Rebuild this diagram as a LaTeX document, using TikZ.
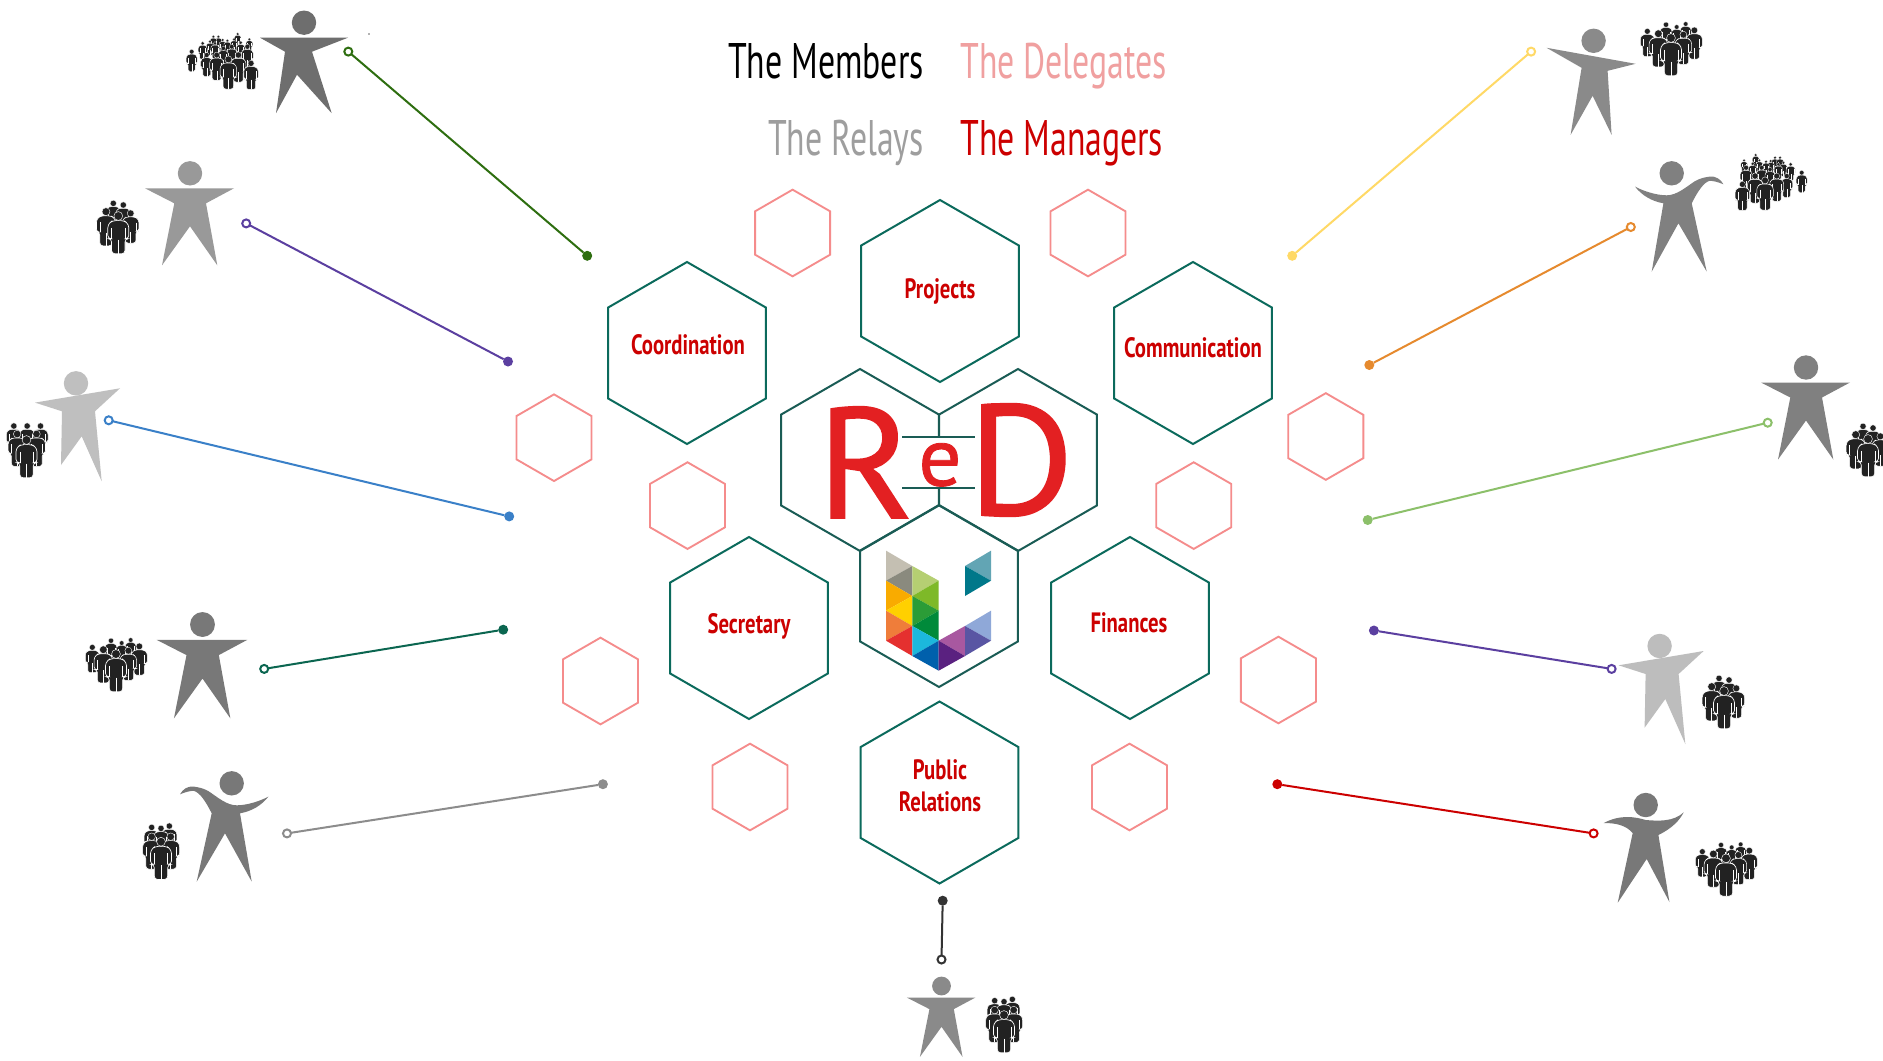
\documentclass[tikz,border=0pt]{standalone}
\usepackage{fontspec}
\usetikzlibrary{shapes.geometric}
\newfontfamily\condf[FakeStretch=0.675]{PT Sans}
\newfontfamily\labelf[FakeStretch=0.74]{PT Sans}
\newfontfamily\logof[FakeStretch=1.03,FakeBold=1.0]{PT Sans}
\definecolor{hexteal}{HTML}{0B6A5C}
\definecolor{hexdark}{HTML}{1A5C55}
\definecolor{hexpink}{HTML}{F58C8C}
\definecolor{titlepink}{HTML}{F0A0A0}
\definecolor{redlabel}{HTML}{CC0000}
\definecolor{logored}{HTML}{E32022}
\definecolor{crowdc}{HTML}{222222}
\definecolor{c1}{HTML}{2E6E10}
\definecolor{c2}{HTML}{5B3FA0}
\definecolor{c3}{HTML}{3A80C8}
\definecolor{c4}{HTML}{0B6650}
\definecolor{c5}{HTML}{8C8C8C}
\definecolor{c6}{HTML}{333333}
\definecolor{c7}{HTML}{FFD966}
\definecolor{c8}{HTML}{E68A2E}
\definecolor{c9}{HTML}{8CC06A}
\definecolor{c10}{HTML}{5B3FA0}
\definecolor{c11}{HTML}{CC0000}
\tikzset{
  hexbig/.style={regular polygon,regular polygon sides=6,shape border rotate=30,draw=hexteal,line width=1.5pt,minimum size=136.5pt,inner sep=0pt,outer sep=0pt},
  hexmid/.style={hexbig,draw=hexdark},
  hexsmall/.style={regular polygon,regular polygon sides=6,shape border rotate=30,draw=hexpink,line width=1.4pt,minimum size=65pt,inner sep=0pt,outer sep=0pt},
  hexlabel/.style={text=redlabel,font={\labelf\bfseries\fontsize{21}{24}\selectfont},align=center,inner sep=0pt},
  titletext/.style={font={\condf\fontsize{37.5}{40}\selectfont},inner sep=0pt},
  endopen/.style={circle,draw=#1,fill=white,line width=1.5pt,minimum size=6pt,inner sep=0pt,outer sep=0pt},
  endfull/.style={circle,fill=#1,minimum size=7.5pt,inner sep=0pt,outer sep=0pt},
  link/.style={draw=#1,line width=1.5pt},
  logoletter/.style={text=logored,inner sep=0pt,anchor=base}
}
% small pictogram person: head centre at (x,y), total height h
\newcommand\minip[3]{%
  \begin{scope}[shift={({#1},{#2-.1*#3})},scale=#3]
    \fill[crowdc,draw=white,line width=#3*.012pt,rounded corners=#3*.06pt] (-.25,.64)--(-.25,.3)--(-.14,.21)--(.14,.21)--(.25,.3)--(.25,.64)--(.16,.64)--(.16,1)--(-.16,1)--(-.16,.64)--cycle;
    \fill[crowdc,draw=white,line width=#3*.008pt] (0,.1) circle (.105);
    \draw[white,line width=#3*.008pt] (0,.66)--(0,1) (-.16,.38)--(-.16,.64) (.16,.38)--(.16,.64);
  \end{scope}}
\def\smallcrowd{-15/-38/30,15/-33/30,-37/-13/38,37/-8/33,0/0/42}
\def\narrowcrowd{-28/-43/30,25/-47/30,0/-40/30,-28/-15/36,29/-15/36,0/0/42}
\def\wideback{-38/-42/30,2/-42/30,42/-42/30,-28/-18/36,30/-18/36,0/0/42}
\def\medcrowd{44/-42/22,-15/-40/25,17/-33/22,-71/-20/28,70/-23/32,37/-10/33,-38/-13/37,0/0/42}
\def\largecrowd{138/-53/13,80/-45/14,65/-45/14,173/-37/13,127/-37/14,93/-35/14,107/-33/14,55/-30/15,147/-27/17,33/-25/18,70/-25/17,167/-15/24,120/-15/22,95/-10/20,45/10/24,75/10/28,140/10/30,178/35/29,110/23/33,0/0/22}
\newcommand\crowdat[4]{% list, x, y, mirror sign
  \foreach \dx/\dy/\hh in #1 {%
    \pgfmathsetmacro\px{#2+(#4)*\dx/3}%
    \pgfmathsetmacro\py{#3+\dy/3}%
    \minip{\px}{\py}{\hh}}}
% large figures: head at origin
\def\starpath{(-45,15)--(44,15)--(16,30)--(27.3,92)--(0,53)--(-28,92)--(-15.7,30)--cycle}
\def\leanpath{(-44,15)--(44,15)--(8,29)--(27.7,90.5)--(-7,52)--(-28,90.5)--(-19,29)--cycle}
\def\tiltpath{(-41,19.3)--(44,5)--(19,28)--(25.7,98)--(5.7,53)--(-15,81.7)--(-14,28)--cycle}
\def\rightpath{(-47,7)--(42,23)--(14,30)--(18,94)--(-1,55)--(-23,94)--(-12,27)--cycle}
\def\swooshpath{(-36.7,13.3) .. controls (-28,18) and (-15,22) .. (-5,22) .. controls (5,22) and (14,14) .. (23,8) .. controls (28,5) and (33,4) .. (38,3.3) .. controls (44,2.5) and (49,6) .. (51.7,11) .. controls (47,9) and (42,7.5) .. (38,7.5) .. controls (32,9) and (26,18) .. (20,30) -- (35,98.3) -- (6.7,50) -- (-20,98.3) -- (-8.3,30) .. controls (-20,28) and (-30,22) .. cycle}
\def\capepath{(-42,18) .. controls (-25,9) and (-10,12) .. (0,15) .. controls (12,16) and (28,17) .. (38,7.3) .. controls (34,15) and (27,23) .. (12.7,30) -- (23.7,97) -- (1,54) -- (-28,97.7) -- (-13,28) .. controls (-20,20) and (-30,18) .. cycle}
\newcommand\manfig[6][]{%
  \begin{scope}[shift={(#2,#3)},#1,scale=#4]
    \fill[#5] (0,0) circle (12.2);
    \fill[#5] #6;
  \end{scope}}
\newcommand\tri[4]{\definecolor{tc}{HTML}{#1}\fill[tc] #2--#3--#4--cycle;}
\begin{document}
\begin{tikzpicture}[x=.75pt,y=-.75pt]
\useasboundingbox[fill=white] (0,0) rectangle (1883,1060);

% titles
\node[titletext,anchor=base east,text=black] (tmembers) at (924,78) {The Members};
\node[titletext,anchor=base west,text=titlepink] (tdelegates) at (960,78) {The Delegates};
\node[titletext,anchor=base east,text=black!38] (trelays) at (924,155) {The Relays};
\node[titletext,anchor=base west,text=redlabel] (tmanagers) at (960,155) {The Managers};

% small pink hexagons
\foreach \n/\hx/\hy in {a/792.6/233,b/1088/233,c/554/437.7,d/687.5/505.6,e/1325.8/436.5,f/1193.7/505.6,g/600.5/681,h/1278.4/680,i/750/787,j/1129.5/787}
  \node[hexsmall] (pink\n) at (\hx,\hy) {};

% main hexagons
\node[hexbig] (projects) at (940,291) {};
\node[hexbig] (coordination) at (687,353) {};
\node[hexbig] (communication) at (1193,353) {};
\node[hexbig] (secretary) at (749,628) {};
\node[hexbig] (finances) at (1130,628) {};
\node[hexbig] (public) at (939.5,792.5) {};
\node[hexlabel] (lprojects) at (940,291) {Projects};
\node[hexlabel] (lcoord) at (688,345) {Coordination};
\node[hexlabel] (lcomm) at (1193,348) {Communication};
\node[hexlabel] (lsecr) at (749,626) {Secretary};
\node[hexlabel] (lfin) at (1129,622.5) {Finances};
\node[hexlabel] (lpub) at (940,786) {Public\\[0pt]Relations};

% central hexagons
\node[hexmid] (hexr) at (860,460) {};
\node[hexmid] (hexd) at (1018,460) {};
\node[hexmid] (hexu) at (939,596) {};
\fill[white] (936,437) rectangle (942,488);
\coordinate (lineaw) at (902,436.7);
\coordinate (lineae) at (975,436.7);
\coordinate (linebw) at (902,488);
\coordinate (linebe) at (975,488);
\draw[hexdark,line width=1.2pt] (lineaw)--(lineae) (linebw)--(linebe);
\node[logoletter,font={\logof\fontsize{118}{118}\selectfont}] (letterr) at (865.5,518) {R};
\node[logoletter,font={\logof\fontsize{118}{118}\selectfont}] (letterd) at (1021,515) {D};
\node[logoletter,font={\logof\fontsize{62}{62}\selectfont}] (lettere) at (940,485.5) {e};

% logo
\begin{scope}[shift={(740,340)},x=.25pt,y=-.25pt]
\tri{C4BFB2}{(438,632)}{(517,678)}{(438,722)}
\tri{8A8A7E}{(438,722)}{(517,678)}{(517,768)}
\tri{F9AB00}{(438,722)}{(517,768)}{(438,812)}
\tri{FFD000}{(438,812)}{(517,768)}{(517,858)}
\tri{EF7D3A}{(438,812)}{(517,858)}{(438,902)}
\tri{E5302F}{(438,902)}{(517,858)}{(517,948)}
\tri{B5CF72}{(517,678)}{(596,722)}{(517,768)}
\tri{7EB928}{(517,768)}{(596,722)}{(596,812)}
\tri{2B9C37}{(517,768)}{(596,812)}{(517,858)}
\tri{008A3A}{(517,858)}{(596,812)}{(596,902)}
\tri{1CB8DC}{(517,858)}{(596,902)}{(517,948)}
\tri{0060AC}{(517,948)}{(596,902)}{(596,992)}
\tri{A858A0}{(596,902)}{(675,858)}{(675,948)}
\tri{5A2180}{(596,902)}{(675,948)}{(596,992)}
\tri{8FA8D8}{(675,858)}{(753,812)}{(753,902)}
\tri{5955A3}{(675,858)}{(753,902)}{(675,948)}
\tri{62A5B4}{(675,678)}{(753,632)}{(753,722)}
\tri{00788A}{(675,678)}{(753,722)}{(675,768)}
\end{scope}

% figures
\manfig{304}{22.7}{1}{black!57}{\leanpath}
\manfig{190}{173.3}{1}{black!40}{\starpath}
\manfig{76}{383.3}{1}{black!25}{\tiltpath}
\manfig{202.5}{624.5}{1.02}{black!53}{\starpath}
\manfig[xscale=-1]{231.7}{783.3}{1}{black!53}{\swooshpath}
\manfig{941.5}{986}{.77}{black!46}{\starpath}
\manfig{1593.6}{40.8}{1}{black!46}{\rightpath}
\manfig{1671.7}{173.3}{1}{black!50}{\swooshpath}
\manfig{1806}{367.5}{1}{black!50}{\starpath}
\manfig{1659.6}{646}{1}{black!26}{\tiltpath}
\manfig{1645.7}{805}{1}{black!53}{\capepath}
\fill[black!60] (369,34) circle (.8);

% crowds
\crowdat{\largecrowd}{191.7}{51.7}{1}
\crowdat{\smallcrowd}{118.3}{216}{1}
\crowdat{\wideback}{26.5}{440}{1}
\crowdat{\medcrowd}{116}{654}{1}
\crowdat{\narrowcrowd}{161}{841.7}{1}
\crowdat{\narrowcrowd}{1004}{1015}{1}
\crowdat{\medcrowd}{1671}{38}{1}
\crowdat{\largecrowd}{1801.7}{172.7}{-1}
\crowdat{\smallcrowd}{1868}{439}{1}
\crowdat{\smallcrowd}{1724}{691}{1}
\crowdat{\medcrowd}{1726}{858.3}{1}

% connectors
\foreach \k/\ax/\ay/\bx/\by in {1/348.3/51.6/587.2/255.8,2/246.2/223.4/508/361.5,3/108.7/420.3/509.2/516.4,4/264.2/668.9/503.2/629.7,5/287/833.4/602.9/784.2,6/941.5/959.5/942.7/900.7,7/1531.1/51.6/1292.2/255.8,8/1630.8/227/1369.3/365,9/1767.7/422.7/1367.7/520,10/1611.6/668.9/1373.9/630.5,11/1593.6/833.4/1277.3/784.2}{
  \node[endfull=c\k] (b\k) at (\bx,\by) {};
  \node[endopen=c\k] (a\k) at (\ax,\ay) {};
  \draw[link=c\k] (a\k) -- (b\k);
}
\end{tikzpicture}
\end{document}
